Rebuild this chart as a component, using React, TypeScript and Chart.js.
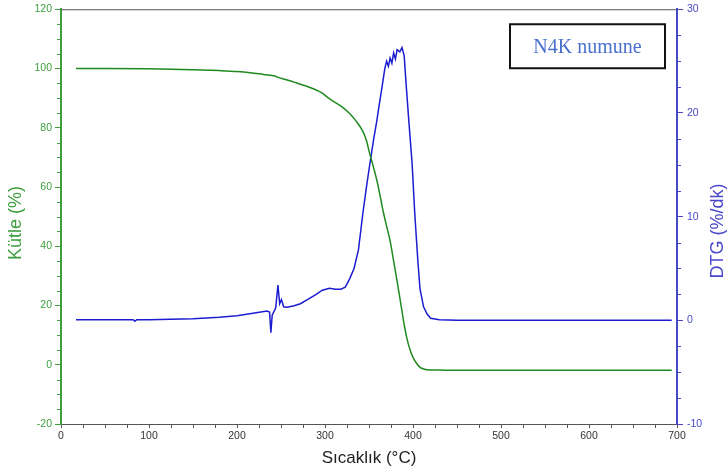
import React, { useEffect, useRef } from "react";
import { Chart, registerables } from "chart.js";

Chart.register(...registerables);

// Temperature (°C) and mass (%) for the TG curve
const massTemp = [17, 50, 100, 150, 180, 200, 215, 230, 240, 243, 246, 255, 265, 280, 295, 306, 320, 328, 336, 343, 347, 351, 355, 359, 363, 366, 370, 374, 378, 381.5, 384, 387, 390, 393, 397, 400, 404, 408, 413, 420, 430, 450, 500, 600, 694];
const massValues = [100, 100, 99.9, 99.6, 99.3, 99.0, 98.6, 98.0, 97.6, 97.5, 97.1, 96.3, 95.4, 93.9, 92.0, 89.6, 86.9, 84.8, 82.0, 78.8, 75.8, 71.0, 66.8, 62.2, 56.5, 51.9, 46.8, 41.8, 35.0, 29.0, 24.5, 19.0, 13.5, 9.0, 4.7, 2.5, 0.5, -0.9, -1.5, -1.75, -1.8, -1.85, -1.85, -1.85, -1.85];

// Temperature (°C) and DTG (%/dk) for the DTG curve
const dtgTemp = [17, 50, 82, 84, 86, 100, 150, 180, 200, 220, 234, 237, 238.5, 240, 244, 246.5, 248.5, 250.5, 253, 257, 265, 272, 280, 290, 297, 305, 312, 318, 323, 328, 333, 338, 343, 347, 351, 355, 359, 362, 365, 368, 370, 372, 374, 376, 378, 380, 382, 385, 387.5, 390, 392, 395, 399, 402, 405.7, 408, 412, 416, 420, 430, 450, 500, 600, 694];
const dtgValues = [0.05, 0.05, 0.05, -0.1, 0.05, 0.05, 0.15, 0.3, 0.45, 0.7, 0.9, 0.8, -1.2, 0.5, 1.2, 3.4, 1.6, 2.0, 1.3, 1.25, 1.4, 1.6, 2.0, 2.5, 2.9, 3.1, 3.0, 3.0, 3.2, 4.0, 5.0, 6.8, 10.3, 12.8, 15.1, 17.3, 19.3, 21.0, 22.6, 24.3, 25.0, 24.5, 25.3, 24.8, 25.8, 25.2, 26.1, 25.9, 26.3, 25.5, 23.0, 19.5, 15.1, 10.3, 5.5, 3.0, 1.3, 0.6, 0.2, 0.05, 0.0, 0.0, 0.0, 0.0];

const xTicks = [0, 100, 200, 300, 400, 500, 600, 700];
const massTicks = [-20, 0, 20, 40, 60, 80, 100, 120];
const dtgTicks = [-10, 0, 10, 20, 30];

const GREEN = "#1f8a1f";
const GREEN_AXIS = "#3e9e3e";
const BLUE = "#1c1cd0";
const BLUE_AXIS = "#4848c8";
const FONT = "'Liberation Sans', Arial, sans-serif";

const decorPlugin = {
  id: "decor",
  afterDraw(chart: any) {
    const { ctx, chartArea, scales } = chart;
    const x = scales.x;
    const y = scales.y;
    const y1 = scales.y1;
    ctx.save();
    // top border
    ctx.strokeStyle = "#555";
    ctx.lineWidth = 1;
    ctx.beginPath();
    ctx.moveTo(chartArea.left, chartArea.top + 0.5);
    ctx.lineTo(chartArea.right, chartArea.top + 0.5);
    ctx.stroke();

    // minor ticks left
    ctx.strokeStyle = GREEN_AXIS;
    ctx.beginPath();
    for (let v = massTicks[0]; v <= massTicks[massTicks.length - 1]; v += 5) {
      if (v % 20 === 0) continue;
      const py = Math.round(y.getPixelForValue(v)) + 0.5;
      ctx.moveTo(chartArea.left - 4, py);
      ctx.lineTo(chartArea.left, py);
    }
    ctx.stroke();

    // minor ticks right
    ctx.strokeStyle = BLUE_AXIS;
    ctx.beginPath();
    for (let v = dtgTicks[0]; v <= dtgTicks[dtgTicks.length - 1]; v += 2.5) {
      if (v % 10 === 0) continue;
      const py = Math.round(y1.getPixelForValue(v)) + 0.5;
      ctx.moveTo(chartArea.right, py);
      ctx.lineTo(chartArea.right + 4, py);
    }
    ctx.stroke();

    // minor ticks bottom
    ctx.strokeStyle = "#555";
    ctx.beginPath();
    for (let v = xTicks[0]; v <= xTicks[xTicks.length - 1]; v += 25) {
      if (v % 100 === 0) continue;
      const px = Math.round(x.getPixelForValue(v)) + 0.5;
      ctx.moveTo(px, chartArea.bottom);
      ctx.lineTo(px, chartArea.bottom + 4);
    }
    ctx.stroke();

    // y axis titles
    ctx.font = `18px ${FONT}`;
    ctx.textAlign = "center";
    ctx.textBaseline = "middle";
    ctx.fillStyle = GREEN_AXIS;
    ctx.save();
    ctx.translate(16, 223);
    ctx.rotate(-Math.PI / 2);
    ctx.fillText("Kütle (%)", 0, 0);
    ctx.restore();
    ctx.fillStyle = BLUE_AXIS;
    ctx.save();
    ctx.translate(718, 231);
    ctx.rotate(-Math.PI / 2);
    ctx.fillText("DTG (%/dk)", 0, 0);
    ctx.restore();

    // label box
    const bx = chartArea.right - 167;
    const by = chartArea.top + 15;
    const bw = 155;
    const bh = 44;
    ctx.fillStyle = "#fff";
    ctx.fillRect(bx, by, bw, bh);
    ctx.strokeStyle = "#111";
    ctx.lineWidth = 2;
    ctx.strokeRect(bx, by, bw, bh);
    ctx.fillStyle = "#4a70cf";
    ctx.font = "20px 'Liberation Serif', 'Times New Roman', serif";
    ctx.textAlign = "center";
    ctx.textBaseline = "middle";
    ctx.fillText("N4K numune", bx + bw / 2, by + bh / 2 + 1);
    ctx.restore();
  },
};

export default function App() {
  const canvasRef = useRef<HTMLCanvasElement | null>(null);

  useEffect(() => {
    if (!canvasRef.current) return;
    const massData = massTemp.map((t, i) => ({ x: t, y: massValues[i] }));
    const dtgData = dtgTemp.map((t, i) => ({ x: t, y: dtgValues[i] }));
    const chart = new Chart(canvasRef.current, {
      type: "line",
      data: {
        datasets: [
          {
            label: "Kütle",
            data: massData,
            yAxisID: "y",
            borderColor: GREEN,
            borderWidth: 1.5,
            pointRadius: 0,
            cubicInterpolationMode: "monotone",
            fill: false,
          },
          {
            label: "DTG",
            data: dtgData,
            yAxisID: "y1",
            borderColor: BLUE,
            borderWidth: 1.5,
            pointRadius: 0,
            tension: 0,
            fill: false,
          },
        ],
      },
      options: {
        responsive: false,
        animation: false,
        layout: { padding: { top: 6, left: 0, right: 0, bottom: 0 } },
        plugins: {
          legend: { display: false },
          tooltip: { enabled: false },
        },
        scales: {
          x: {
            type: "linear",
            min: 0,
            max: 700,
            afterFit: (s: any) => {
              s.height = 50;
            },
            afterBuildTicks: (s: any) => {
              s.ticks = xTicks.map((v) => ({ value: v }));
            },
            ticks: {
              color: "#333",
              font: { family: FONT, size: 10.5 },
              padding: 2,
              maxRotation: 0,
            },
            grid: { drawOnChartArea: false, tickLength: 4, color: "#555" },
            border: { color: "#555", width: 1 },
            title: {
              display: true,
              text: "Sıcaklık (°C)",
              color: "#222",
              font: { family: FONT, size: 17 },
              padding: { top: 0, bottom: 5 },
            },
          },
          y: {
            type: "linear",
            position: "left",
            min: -20,
            max: 120,
            afterFit: (s: any) => {
              s.width = 61;
            },
            afterBuildTicks: (s: any) => {
              s.ticks = massTicks.map((v) => ({ value: v }));
            },
            ticks: {
              color: GREEN_AXIS,
              font: { family: FONT, size: 10.5, lineHeight: 1 },
              padding: 3,
            },
            grid: { drawOnChartArea: false, tickLength: 6, color: GREEN_AXIS },
            border: { color: GREEN_AXIS, width: 2 },
          },
          y1: {
            type: "linear",
            position: "right",
            min: -10,
            max: 30,
            afterFit: (s: any) => {
              s.width = 50;
            },
            afterBuildTicks: (s: any) => {
              s.ticks = dtgTicks.map((v) => ({ value: v }));
            },
            ticks: {
              color: BLUE_AXIS,
              font: { family: FONT, size: 10.5, lineHeight: 1 },
              padding: 4,
            },
            grid: { drawOnChartArea: false, tickLength: 6, color: BLUE_AXIS },
            border: { color: BLUE_AXIS, width: 2 },
          },
        },
      },
      plugins: [decorPlugin],
    } as any);
    return () => chart.destroy();
  }, []);

  return (
    <div style={{ position: "absolute", left: 0, top: 0, width: 727, height: 474, background: "#fff" }}>
      <canvas ref={canvasRef} width={727} height={474} style={{ display: "block" }} />
    </div>
  );
}
